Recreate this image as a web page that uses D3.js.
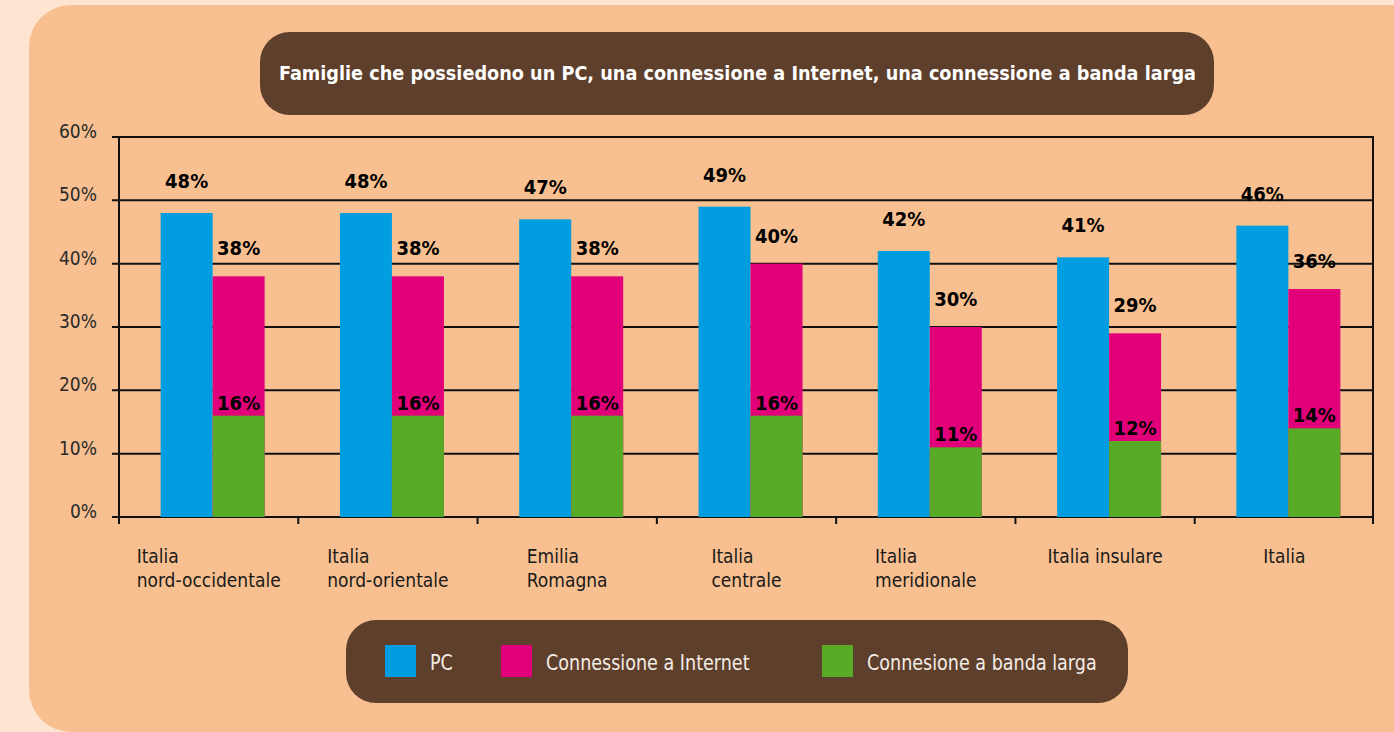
<!DOCTYPE html>
<html lang="it">
<head>
<meta charset="UTF-8">
<title>Famiglie PC Internet banda larga</title>
<script src="https://d3js.org/d3.v7.min.js"></script>
<style>
  body { margin: 0; background: #fde5d2; }
  svg text { font-family: "Liberation Sans Narrow", "DejaVu Sans Condensed", "Roboto", sans-serif; }
</style>
</head>
<body>
<div id="chart"></div>
<script>
// dati
var categories = [
  ["Italia", "nord-occidentale"],
  ["Italia", "nord-orientale"],
  ["Emilia", "Romagna"],
  ["Italia", "centrale"],
  ["Italia", "meridionale"],
  ["Italia insulare"],
  ["Italia"]
]
var pc       = [48, 48, 47, 49, 42, 41, 46]
var internet = [38, 38, 38, 40, 30, 29, 36]
var banda    = [16, 16, 16, 16, 11, 12, 14]
var yTicks   = [0, 10, 20, 30, 40, 50, 60]
var seriesNames = ["PC", "Connessione a Internet", "Connesione a banda larga"]
var colors = ["#009ee0", "#e2007a", "#57ab27"]

var width = 1394, height = 732
var svg = d3.select("#chart").append("svg")
  .attr("width", width).attr("height", height)

svg.append("rect").attr("width", width).attr("height", height).attr("fill", "#fde5d2")
svg.append("rect")
  .attr("x", 29).attr("y", 5).attr("width", 1420).attr("height", 727)
  .attr("rx", 42).attr("fill", "#f8c091")

// titolo
svg.append("rect")
  .attr("x", 260).attr("y", 32).attr("width", 954).attr("height", 83)
  .attr("rx", 30).attr("fill", "#5e3f2b")
svg.append("text")
  .attr("x", 279).attr("y", 80)
  .attr("textLength", 917).attr("lengthAdjust", "spacingAndGlyphs")
  .attr("fill", "#fff").attr("font-weight", "bold").attr("font-size", 19)
  .text("Famiglie che possiedono un PC, una connessione a Internet, una connessione a banda larga")

var x0 = 119, x1 = 1374, yTop = 137, yBot = 517

var x = d3.scaleBand().domain(d3.range(categories.length)).range([x0, x1]).padding(0)
var y = d3.scaleLinear().domain([0, 60]).range([yBot, yTop])
var barW = 52

// griglia
var g = svg.append("g")
g.selectAll(".grid").data(yTicks).enter().append("line")
  .attr("x1", 112).attr("x2", x1)
  .attr("y1", function(d) { return y(d) }).attr("y2", function(d) { return y(d) })
  .attr("stroke", "#111").attr("stroke-width", 2)
g.append("line").attr("x1", x0).attr("x2", x0).attr("y1", yTop).attr("y2", yBot + 7)
  .attr("stroke", "#111").attr("stroke-width", 2)
g.append("line").attr("x1", x1 - 1).attr("x2", x1 - 1).attr("y1", yTop).attr("y2", yBot + 7)
  .attr("stroke", "#111").attr("stroke-width", 2)
g.selectAll(".xtick").data(d3.range(1, categories.length)).enter().append("line")
  .attr("x1", function(i) { return x(i) }).attr("x2", function(i) { return x(i) })
  .attr("y1", yBot).attr("y2", yBot + 7)
  .attr("stroke", "#111").attr("stroke-width", 2)

g.selectAll(".ylab").data(yTicks).enter().append("text")
  .attr("x", 97).attr("y", function(d) { return y(d) + 1 })
  .attr("text-anchor", "end").attr("font-size", 19).attr("fill", "#2a2a2a")
  .text(function(d) { return d + "%" })

// barre
function pcX(i) { return x(i) + x.bandwidth() / 2 - barW + 4 }
function inX(i) { return x(i) + x.bandwidth() / 2 + 4 }

var bars = svg.append("g")
bars.selectAll(".pc").data(pc).enter().append("rect")
  .attr("x", function(d, i) { return pcX(i) }).attr("width", barW)
  .attr("y", function(d) { return y(d) }).attr("height", function(d) { return yBot - y(d) })
  .attr("fill", colors[0])
bars.selectAll(".in").data(internet).enter().append("rect")
  .attr("x", function(d, i) { return inX(i) }).attr("width", barW)
  .attr("y", function(d) { return y(d) }).attr("height", function(d) { return yBot - y(d) })
  .attr("fill", colors[1])
bars.selectAll(".bl").data(banda).enter().append("rect")
  .attr("x", function(d, i) { return inX(i) }).attr("width", barW)
  .attr("y", function(d) { return y(d) }).attr("height", function(d) { return yBot - y(d) })
  .attr("fill", colors[2])

// etichette valori
var labels = svg.append("g").attr("font-weight", "bold").attr("font-size", 20)
  .attr("fill", "#000").attr("text-anchor", "middle")
labels.selectAll(".lpc").data(pc).enter().append("text")
  .attr("x", function(d, i) { return pcX(i) + barW / 2 })
  .attr("y", function(d) { return y(d) - 25 })
  .text(function(d) { return d + "%" })
labels.selectAll(".lin").data(internet).enter().append("text")
  .attr("x", function(d, i) { return inX(i) + barW / 2 })
  .attr("y", function(d) { return y(d) - 21 })
  .text(function(d) { return d + "%" })
labels.selectAll(".lbl").data(banda).enter().append("text")
  .attr("x", function(d, i) { return inX(i) + barW / 2 })
  .attr("y", function(d) { return y(d) - 6 })
  .text(function(d) { return d + "%" })

// etichette categorie
var cat = svg.append("g").attr("font-size", 19).attr("fill", "#1a1a1a")
categories.forEach(function(lines, i) {
  var t = cat.append("text").attr("y", 563)
  lines.forEach(function(l, k) {
    t.append("tspan").attr("x", 0).attr("dy", k === 0 ? 0 : 24).text(l)
  })
  var w = t.node().getBBox().width
  var cx = x(i) + x.bandwidth() / 2
  t.attr("transform", "translate(" + (cx - w / 2) + ",0)")
})

// legenda
svg.append("rect")
  .attr("x", 346).attr("y", 620).attr("width", 782).attr("height", 83)
  .attr("rx", 30).attr("fill", "#5e3f2b")
var legX = [385, 501, 822]
var leg = svg.append("g")
leg.selectAll("rect").data(seriesNames).enter().append("rect")
  .attr("x", function(d, i) { return legX[i] }).attr("y", 645)
  .attr("width", 31).attr("height", 32)
  .attr("fill", function(d, i) { return colors[i] })
leg.selectAll("text").data(seriesNames).enter().append("text")
  .attr("transform", function(d, i) { return "translate(" + (legX[i] + 45) + ",670) scale(0.93,1)" })
  .attr("font-size", 21).attr("fill", "#f3ece6")
  .text(function(d) { return d })
</script>
</body>
</html>
